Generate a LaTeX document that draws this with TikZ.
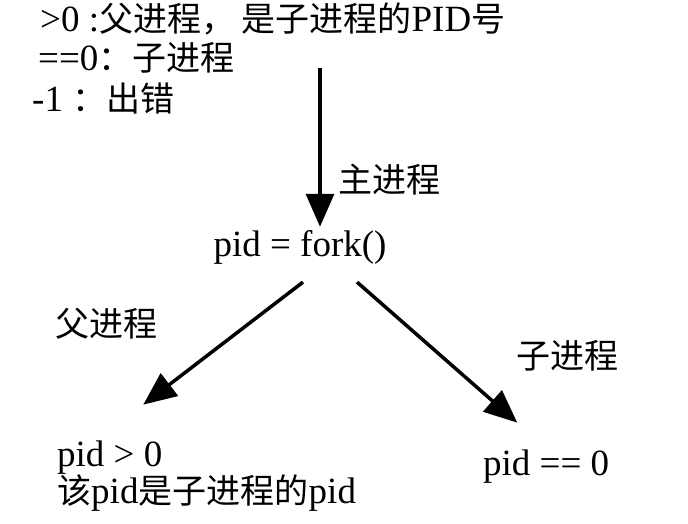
\documentclass[tikz,border=0pt]{standalone}
\usepackage{fontspec}
\setmainfont{Liberation Serif}
\newfontfamily\cjk[Scale=0.92]{Noto Sans CJK SC}
\newcommand{\zh}[1]{{\cjk #1}}
\usetikzlibrary{arrows.meta}

\begin{document}
\begin{tikzpicture}[x=1pt, y=-1pt,
  big/.style={inner sep=0pt, font=\fontsize{37}{37}\selectfont},
  arr/.style={-{Triangle[length=33pt,width=28pt]}, line width=3.5pt}]
  \useasboundingbox (0,0) rectangle (688,523);

  % Return values of fork
  \node[big, anchor=base west] (gt) at (40,31) {>0 :\zh{父进程，}\,\zh{是子进程的}PID\zh{号}};
  \node[big, anchor=base west] (eq) at (38,70) {==0\zh{：子进程}};
  \node[big, anchor=base west] (neg) at (32,111) {-1 \zh{：出错}};

  % The call
  \coordinate (top) at (320,68);
  \node[big, inner ysep=3pt, anchor=base] (fork) at (300,256) {pid = fork()};
  \node[big, anchor=west] (mainlbl) at (338,180) {\zh{主进程}};
  \draw[arr] (top) -- (top |- fork.north);

  % Parent branch
  \node[big, anchor=base west] (parent) at (57,466) {pid > 0};
  \node[big, anchor=base west] (parentnote) at ([yshift=-37pt]parent.base west) {\zh{该}pid\zh{是子进程的}pid};
  \node[big, anchor=west] (parentlbl) at (55,324) {\zh{父进程}};
  \draw[arr] ([shift={(3,15)}]fork.south) -- ([shift={(33.5,-35.5)}]parent.north);

  % Child branch
  \node[big, anchor=base west] (child) at (483,475) {pid == 0};
  \node[big, anchor=west] (childlbl) at (516,356) {\zh{子进程}};
  \draw[arr] ([shift={(57,15)}]fork.south) -- ([shift={(-29,-26.5)}]child.north);

\end{tikzpicture}
\end{document}
